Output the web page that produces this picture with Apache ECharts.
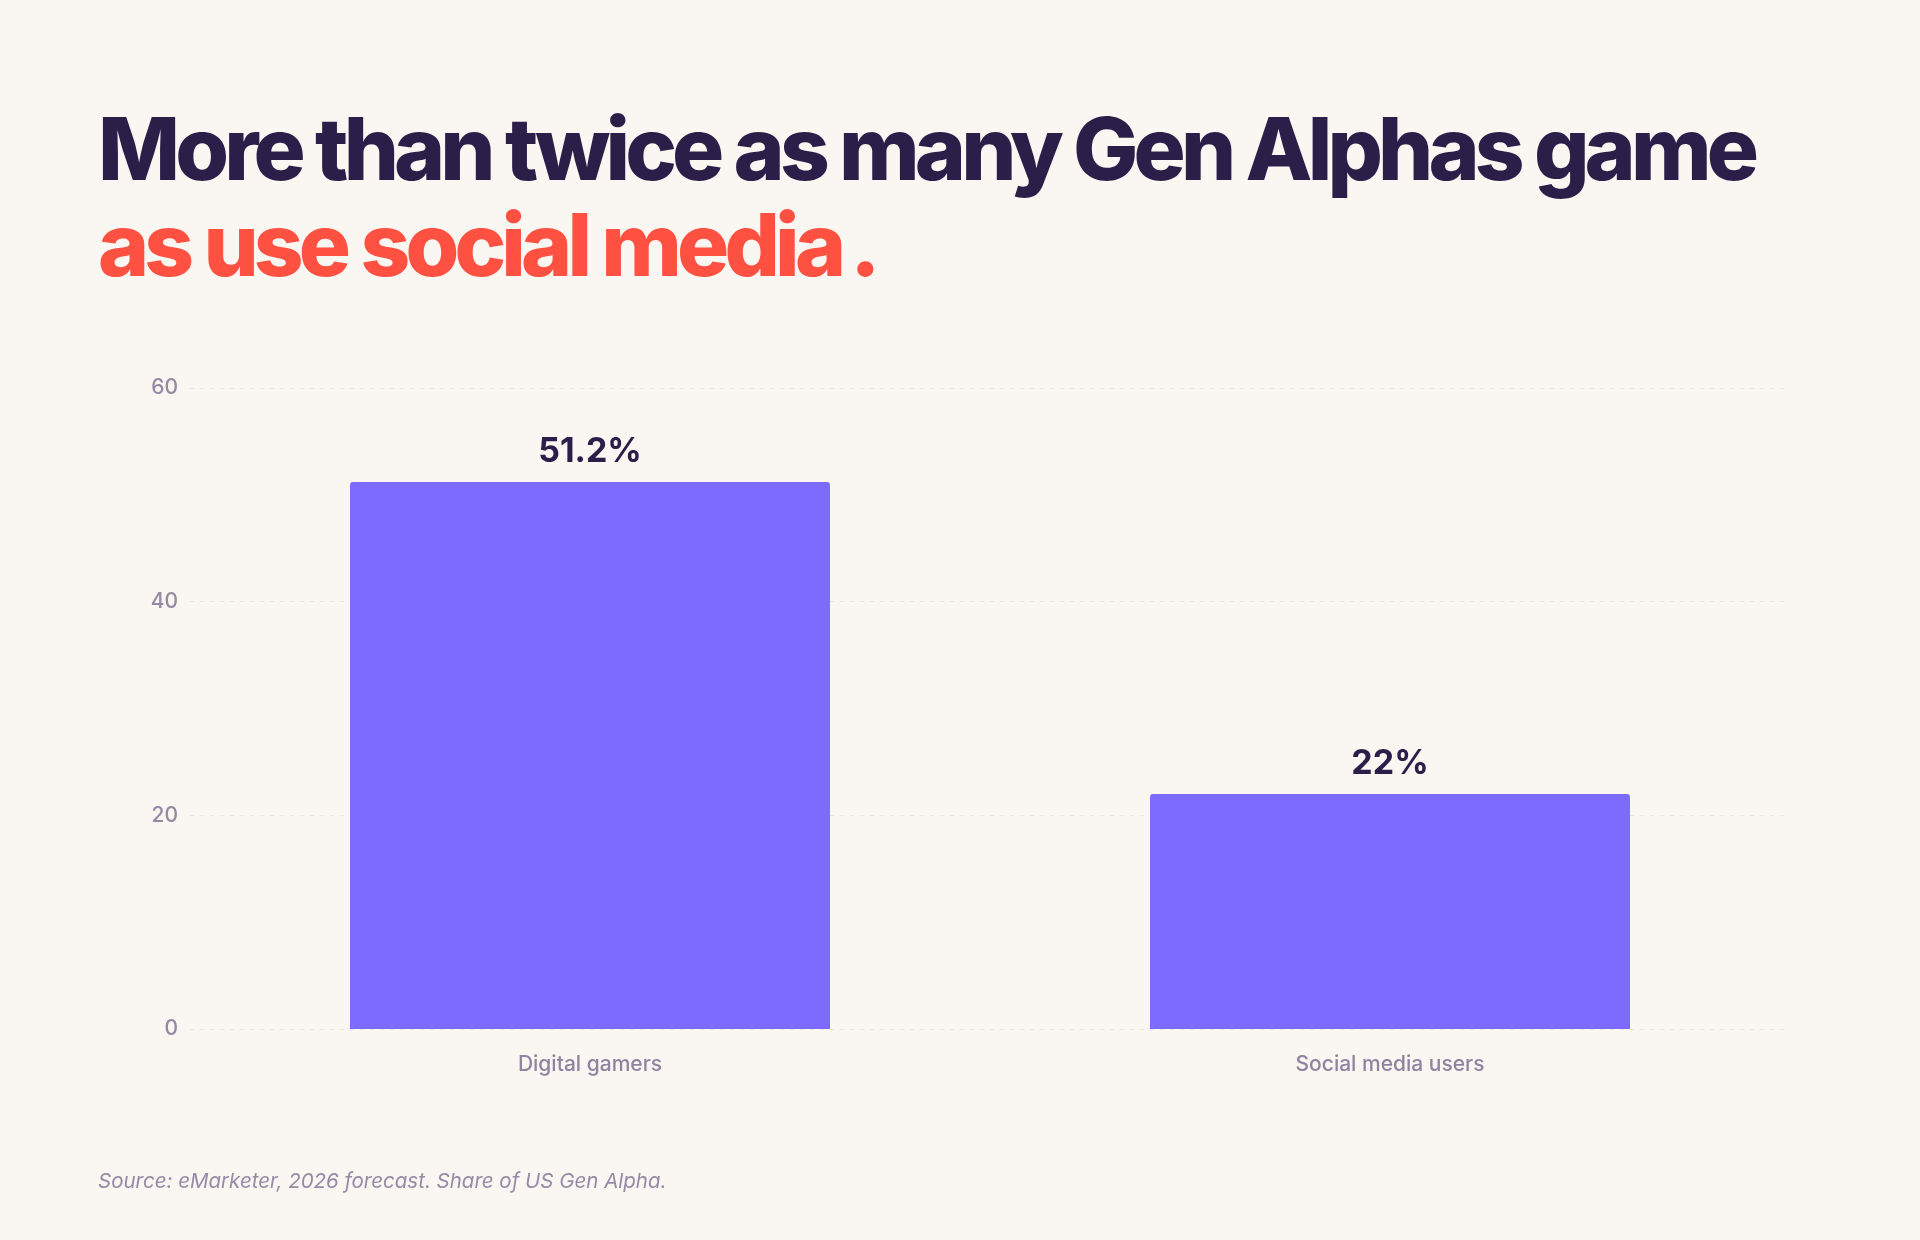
<!DOCTYPE html>
<html>
<head>
<meta charset="utf-8">
<script src="https://cdn.jsdelivr.net/npm/echarts@6/dist/echarts.min.js"></script>
<style>
  html, body { margin: 0; padding: 0; background: #faf7f2; }
  #wrap { position: relative; width: 1920px; height: 1240px; }
  #chart { position: absolute; left: 0; top: 0; width: 1920px; height: 1240px; }
  .headline {
    position: absolute; left: 98px; top: 101px; margin: 0;
    font-family: Inter, "Noto Sans", sans-serif; font-weight: 800;
    font-size: 87px; line-height: 96px; letter-spacing: -0.056em;
    color: #2b1f4a; z-index: 2;
  }
  .headline .accent { color: #ff5142; }
  .headline .dot { margin-left: 0.1em; }
</style>
</head>
<body>
<div id="wrap">
  <div id="chart"></div>
  <h1 class="headline">More than twice as many Gen Alphas game<br><span class="accent">as use social media<span class="dot">.</span></span></h1>
</div>
<script>
const categories = ["Digital gamers", "Social media users"];
const values = [51.2, 22];
const valueLabels = ["51.2%", "22%"];
const yTicks = { min: 0, max: 60, interval: 20 };
const sourceNote = "Source: eMarketer, 2026 forecast. Share of US Gen Alpha.";

const chart = echarts.init(document.getElementById("chart"));

const options = {
    backgroundColor: "#faf7f2",
    animation: false,
    grid: {
        left: 190,
        right: 130,
        top: 388,
        bottom: 211,
        containLabel: false,
    },
    xAxis: {
        type: "category",
        data: categories,
        axisLine: { show: false },
        axisTick: { show: false },
        axisLabel: {
            margin: 25,
            color: "#8e849f",
            fontFamily: "Inter",
            fontWeight: 500,
            fontSize: 21,
        },
    },
    yAxis: {
        type: "value",
        min: yTicks.min,
        max: yTicks.max,
        interval: yTicks.interval,
        axisLine: { show: false },
        axisTick: { show: false },
        axisLabel: {
            margin: 12,
            color: "#948aa3",
            fontFamily: "Inter",
            fontWeight: 500,
            fontSize: 21,
        },
        splitLine: {
            lineStyle: {
                color: "#ebe5df",
                type: [4, 6],
                width: 1,
            },
        },
    },
    series: [
        {
            type: "bar",
            data: values,
            barWidth: "60%",
            itemStyle: {
                color: "#7c6bfd",
                borderRadius: [3, 3, 0, 0],
            },
            label: {
                show: true,
                position: "top",
                distance: 13,
                color: "#2b1f4a",
                fontFamily: "Inter",
                fontWeight: 700,
                fontSize: 34,
                formatter: (p) => valueLabels[p.dataIndex],
            },
        },
    ],
    graphic: [
        {
            type: "text",
            left: 98,
            top: 1172,
            style: {
                text: sourceNote,
                fill: "#958ba5",
                fontFamily: "Inter",
                fontStyle: "italic",
                fontSize: 20.5,
            },
        },
    ],
};

chart.setOption(options);
</script>
</body>
</html>
